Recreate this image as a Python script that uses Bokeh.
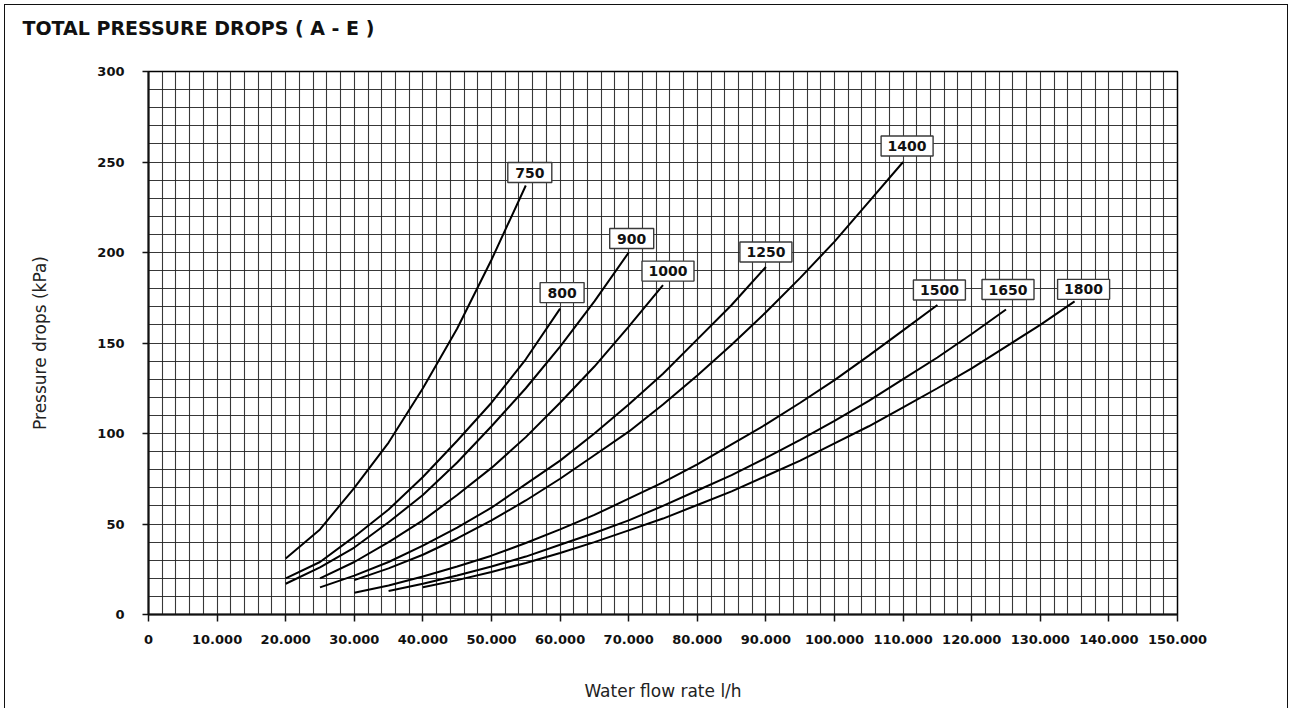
from bokeh.plotting import figure
from bokeh.models import Range1d, FixedTicker, Title
from bokeh.embed import file_html
from bokeh.resources import INLINE
from bokeh.core.properties import value

# ---------------- data ----------------
title_text = "TOTAL PRESSURE DROPS ( A - E )"
x_label = "Water flow rate l/h"
y_label = "Pressure drops (kPa)"

x_tick_values = [0, 10000, 20000, 30000, 40000, 50000, 60000, 70000,
                 80000, 90000, 100000, 110000, 120000, 130000, 140000, 150000]
x_tick_labels = ["0", "10.000", "20.000", "30.000", "40.000", "50.000", "60.000",
                 "70.000", "80.000", "90.000", "100.000", "110.000", "120.000",
                 "130.000", "140.000", "150.000"]
y_tick_values = [0, 50, 100, 150, 200, 250, 300]

series_names = ["750", "800", "900", "1000", "1250", "1400", "1500", "1650", "1800"]

flow_750 = [20000, 25000, 30000, 35000, 40000, 45000, 50000, 55000]
dp_750 = [31, 47, 70, 95, 125, 158, 196, 237]

flow_800 = [20000, 25000, 30000, 35000, 40000, 45000, 50000, 55000, 60000]
dp_800 = [20, 29, 43, 58, 76, 96, 117, 141, 169]

flow_900 = [20000, 25000, 30000, 35000, 40000, 45000, 50000, 55000, 60000, 65000, 70000]
dp_900 = [17, 26, 37, 51, 66, 84, 104, 125, 148, 173, 200]

flow_1000 = [25000, 30000, 35000, 40000, 45000, 50000, 55000, 60000, 65000, 70000, 75000]
dp_1000 = [20, 29, 40, 52, 66, 81, 98, 117, 137, 159, 182]

flow_1250 = [25000, 30000, 35000, 40000, 45000, 50000, 55000, 60000, 65000, 70000,
             75000, 80000, 85000, 90000]
dp_1250 = [15, 21.5, 29, 38, 48, 59, 72, 85, 100, 116, 133, 152, 171, 192]

flow_1400 = [30000, 35000, 40000, 45000, 50000, 55000, 60000, 65000, 70000, 75000,
             80000, 85000, 90000, 95000, 100000, 105000, 110000]
dp_1400 = [19, 25.5, 33, 42, 52, 63, 75, 88, 101, 116, 132, 149, 167, 186, 206, 228, 250]

flow_1500 = [30000, 35000, 40000, 45000, 50000, 55000, 60000, 65000, 70000, 75000,
             80000, 85000, 90000, 95000, 100000, 105000, 110000, 115000]
dp_1500 = [12, 16, 21, 26.5, 32.5, 39.5, 47, 55, 64, 73, 83, 94, 105, 117, 129.5, 143, 157, 171]

flow_1650 = [35000, 40000, 45000, 50000, 55000, 60000, 65000, 70000, 75000, 80000,
             85000, 90000, 95000, 100000, 105000, 110000, 115000, 120000, 125000]
dp_1650 = [13, 17, 21.5, 26.5, 32, 38.5, 45, 52, 60, 68.5, 77, 86.5, 96.5, 107, 118,
           130, 142, 155, 168.5]

flow_1800 = [40000, 45000, 50000, 55000, 60000, 65000, 70000, 75000, 80000, 85000,
             90000, 95000, 100000, 105000, 110000, 115000, 120000, 125000, 130000, 135000]
dp_1800 = [15, 19, 23.5, 28.5, 34, 40, 46.5, 53, 60.5, 68, 76.5, 85, 94.5, 104, 114.5,
           125, 136, 148, 160, 173]

flows = [flow_750, flow_800, flow_900, flow_1000, flow_1250, flow_1400, flow_1500, flow_1650, flow_1800]
drops = [dp_750, dp_800, dp_900, dp_1000, dp_1250, dp_1400, dp_1500, dp_1650, dp_1800]

# label box offsets from each curve end (screen px, y up) -- style only
label_offsets = [(4, 13), (2, 16), (3, 14), (5, 14), (0, 15), (4, 16), (2, 15), (2, 20), (9, 12)]

# ---------------- figure ----------------
FRAME_W, FRAME_H = 1029, 543
X0, X1, Y0, Y1 = 0, 150000, 0, 300
px_x = (X1 - X0) / FRAME_W
px_y = (Y1 - Y0) / FRAME_H

p = figure(title=None, frame_width=FRAME_W, frame_height=FRAME_H,
           x_range=Range1d(X0, X1), y_range=Range1d(Y0, Y1),
           output_backend="svg", toolbar_location=None,
           min_border_left=143, min_border_right=110,
           min_border_top=66, min_border_bottom=94)
# thin frame around the whole chart (drawn outside the canvas, shifted in by a margin)
p.styles = {"margin": "5px 0 0 5px", "outline": "1.5px solid #111", "outline-offset": "0px"}

p.background_fill_color = "white"
p.border_fill_color = "white"
p.outline_line_color = "#000000"
p.outline_line_width = 1.5

# title: an invisible spacer panel next to the frame, then the real title above it
p.add_layout(Title(text=" ", text_font_size="1px", standoff=25), "above")
p.add_layout(Title(text=title_text, align="left", offset=-126, standoff=10,
                   text_font="DejaVu Sans", text_font_style="bold",
                   text_font_size="19px", text_color="#111111"), "above")

# grid
p.xgrid.ticker = FixedTicker(ticks=list(range(0, 150001, 2000)))
p.ygrid.ticker = FixedTicker(ticks=list(range(0, 301, 10)))
for g in (p.xgrid, p.ygrid):
    g.grid_line_color = "#222222"
    g.grid_line_width = 1.1
    g.grid_line_alpha = 0.9

# axes
p.xaxis.ticker = FixedTicker(ticks=x_tick_values)
p.xaxis.major_label_overrides = {v: s for v, s in zip(x_tick_values, x_tick_labels)}
p.yaxis.ticker = FixedTicker(ticks=y_tick_values)
for ax in (p.xaxis, p.yaxis):
    ax.axis_line_color = "#111111"
    ax.axis_line_width = 2
    ax.major_tick_line_color = "#111111"
    ax.major_tick_line_width = 1.5
    ax.major_tick_in = 0
    ax.minor_tick_line_color = None
    ax.major_label_text_font = "DejaVu Sans"
    ax.major_label_text_font_style = "bold"
    ax.major_label_text_font_size = "13px"
    ax.major_label_text_color = "#111111"
    ax.axis_label_text_font = "DejaVu Sans"
    ax.axis_label_text_font_style = "normal"
    ax.axis_label_text_font_size = "17px"
    ax.axis_label_text_color = "#222222"

p.xaxis.major_tick_out = 7
p.xaxis.major_label_standoff = 13
p.xaxis.axis_label = x_label
p.xaxis.axis_label_standoff = 34

p.yaxis.major_tick_out = 6
p.yaxis.major_label_standoff = 18
p.yaxis.axis_label = y_label
p.yaxis.axis_label_standoff = 44

# curves
for xs, ys in zip(flows, drops):
    p.line(xs, ys, line_color="#000000", line_width=2)

# curve labels: boxed text just above each curve's end
lab_x = [xs[-1] + dx * px_x for xs, (dx, dy) in zip(flows, label_offsets)]
lab_y = [ys[-1] + dy * px_y for ys, (dx, dy) in zip(drops, label_offsets)]
lab_w = [44 if len(n) == 3 else 52 for n in series_names]

p.rect(x=lab_x, y=lab_y, width=lab_w, height=20,
       width_units="screen", height_units="screen",
       fill_color="white", line_color="#3a3a3a", line_width=1.4)
p.text(x=lab_x, y=lab_y, text=series_names,
       text_align="center", text_baseline="middle",
       text_font=value("DejaVu Sans"), text_font_style="bold",
       text_font_size="14px", text_color="#111111")

open("out.html", "w").write(file_html(p, INLINE))
